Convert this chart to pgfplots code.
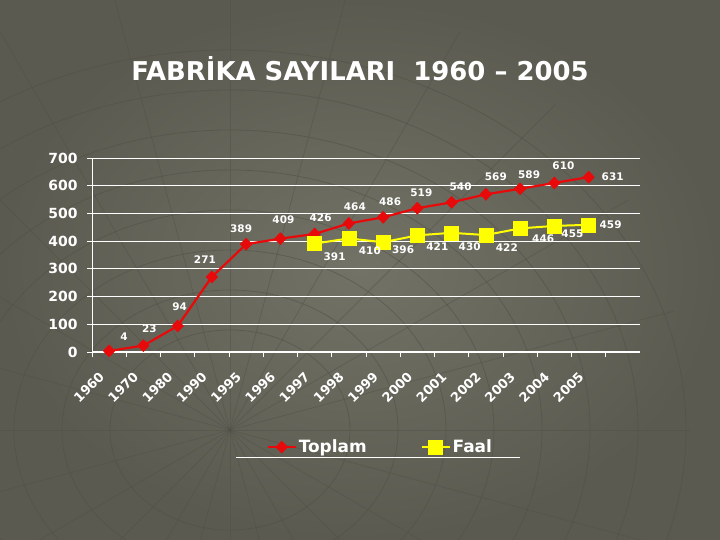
\documentclass[border=0pt]{standalone}
\usepackage{pgfplots}
\pgfplotsset{compat=1.18}
\usepackage{pgfplotstable}
\usepackage{fontspec}
\setmainfont{DejaVu Sans}
\definecolor{bgmid}{RGB}{114,114,102}
\definecolor{bgedge}{RGB}{90,90,80}
\definecolor{patline}{RGB}{80,80,70}
\definecolor{tred}{RGB}{232,10,10}
\definecolor{fyel}{RGB}{255,255,0}

% x = category index, y = value, lx/ly = position of its value label
\pgfplotstableread{
x y lx ly
0 4 0.438 54.5
1 23 1.175 84.3
2 94 2.058 162.6
3 271 2.796 332.3
4 389 3.854 446.7
5 409 5.088 477.6
6 426 6.175 483.7
7 464 7.175 525.3
8 486 8.204 543.7
9 519 9.117 573.1
10 540 10.263 597.7
11 569 11.292 634.0
12 589 12.263 639.5
13 610 13.263 671.3
14 631 14.701 631
}\toplam

\pgfplotstableread{
x y lx ly
6 391 6.584 344.1
7 410 7.613 366.7
8 396 8.584 370.7
9 421 9.584 381.3
10 430 10.526 379.5
11 422 11.613 375.1
12 446 12.672 409.9
13 455 13.526 426.1
14 459 14.642 459
}\faal

\begin{document}
\begin{tikzpicture}
\shade[inner color=bgmid, outer color=bgedge] (0bp,0bp) rectangle (720bp,540bp);
% faint decorative net of the background
\begin{scope}[patline, line width=0.8bp, opacity=0.55]
\clip (0bp,0bp) rectangle (720bp,540bp);
\foreach \r in {100,140,180,220,260,300,340,380}
  \draw (230bp,110bp) ellipse ({\r*1.2bp} and {\r*1bp});
\foreach \a in {0,15,...,345}
  \draw[opacity=0.45] (230bp,110bp) -- ++(\a:{460bp});
\end{scope}

\node[text=white, font=\bfseries\fontsize{26}{30}\selectfont] at (360bp,471bp) {FABRİKA SAYILARI\ \ 1960 – 2005};

\begin{axis}[
  at={(92bp,188bp)}, anchor=south west,
  scale only axis, width=548bp, height=194bp,
  xmin=-0.5, xmax=15.5, ymin=0, ymax=700,
  axis x line=bottom, axis y line=left,
  axis line style={white, line width=1bp, -},
  xtick={0,...,14},
  xticklabels={1960,1970,1980,1990,1995,1996,1997,1998,1999,2000,2001,2002,2003,2004,2005},
  minor xtick={-0.5,0.5,...,14.5},
  xtick style={draw=none},
  minor x tick style={draw=white, line width=0.8bp},
  minor tick length=5bp,
  xticklabel style={xshift=-5bp, yshift=-15bp, rotate=45, anchor=east, text=white, font=\bfseries\fontsize{13}{15}\selectfont},
  ytick={0,100,...,700},
  ytick style={draw=white, line width=0.8bp},
  major tick length=5bp,
  tick align=outside,
  yticklabel style={text=white, font=\bfseries\fontsize{14}{16}\selectfont, xshift=-6bp},
  ymajorgrids, grid style={white, line width=0.9bp},
  /pgf/number format/assume math mode=true,
  clip=false,
  legend columns=2,
  legend style={at={(0.526,-0.49)}, anchor=center, draw=none, fill=none,
    text=white, font=\bfseries\fontsize{17}{20}\selectfont,
    /tikz/every even column/.append style={column sep=52bp}},
  legend image code/.code={\draw[mark repeat=2,mark phase=2] plot coordinates {(0bp,0bp) (14bp,0bp) (28bp,0bp)};},
]
\addplot[color=tred, line width=2.2bp, mark=diamond*, mark size=6bp, mark options={fill=tred, draw=tred, line width=0.5bp, xscale=1.3}]
  table[x=x, y=y] {\toplam};
\addlegendentry{Toplam}
\addplot[color=fyel, line width=2bp, mark=square*, mark size=7bp, mark options={fill=fyel, draw=fyel, line width=0.5bp}]
  table[x=x, y=y] {\faal};
\addlegendentry{Faal}
% value labels
\addplot[forget plot, draw=none, mark=none, nodes near coords, point meta=explicit symbolic,
  every node near coord/.append style={anchor=center, text=white, font=\bfseries\fontsize{10.5}{12}\selectfont}]
  table[x=lx, y=ly, meta=y] {\toplam};
\addplot[forget plot, draw=none, mark=none, nodes near coords, point meta=explicit symbolic,
  every node near coord/.append style={anchor=center, text=white, font=\bfseries\fontsize{10.5}{12}\selectfont}]
  table[x=lx, y=ly, meta=y] {\faal};
\end{axis}
\draw[white, line width=1bp] (236bp,82bp) -- (520bp,82bp);
\pgfresetboundingbox
\path (0bp,0bp) rectangle (720bp,540bp);
\end{tikzpicture}
\end{document}
